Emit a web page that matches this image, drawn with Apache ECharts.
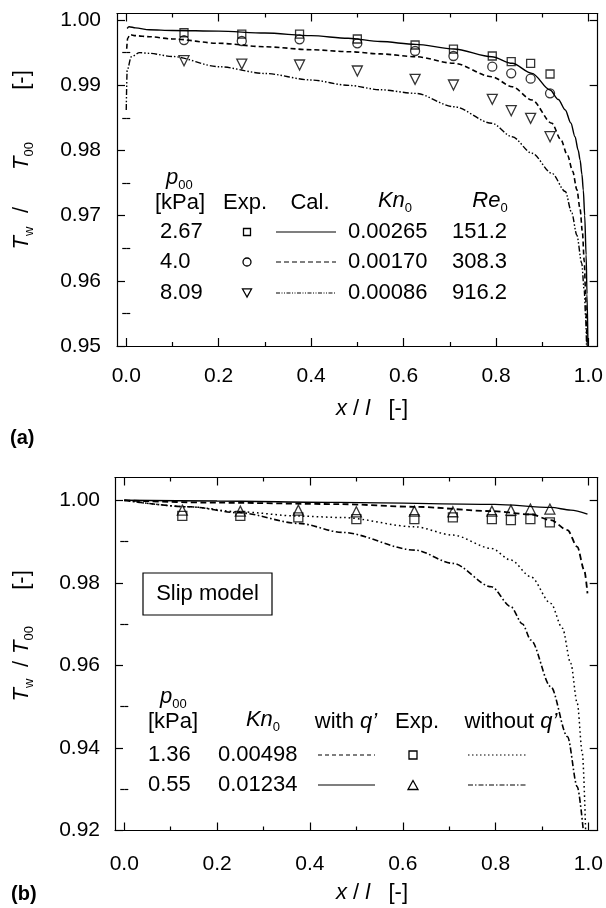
<!DOCTYPE html>
<html><head><meta charset="utf-8">
<script src="https://cdn.jsdelivr.net/npm/echarts@6/dist/echarts.min.js"></script>
<style>html,body{margin:0;padding:0;background:#fff}#c{width:606px;height:908px}</style>
</head><body><div id="c"></div>
<script>
// ---------- tick values ----------
const xMajor = [0, 0.2, 0.4, 0.6, 0.8, 1.0];
const xMinor = [0.1, 0.3, 0.5, 0.7, 0.9];
const yMajorA = [0.95, 0.96, 0.97, 0.98, 0.99, 1.00];
const yMinorA = [0.955, 0.965, 0.975, 0.985, 0.995];
const yMajorB = [0.92, 0.94, 0.96, 0.98, 1.00];
const yMinorB = [0.93, 0.95, 0.97, 0.99];

// ---------- experimental x positions ----------
const expX = [0.125, 0.25, 0.375, 0.5, 0.625, 0.708, 0.792, 0.833, 0.875, 0.917];

// ---------- panel (a) experiments ----------
const expA267 = [0.99805, 0.99785, 0.99785, 0.99709, 0.99617, 0.99555, 0.99448, 0.99361, 0.99336, 0.99172];
const expA40  = [0.99693, 0.99678, 0.99704, 0.99643, 0.99525, 0.99448, 0.99284, 0.99182, 0.99100, 0.98875];
const expA809 = [0.99376, 0.99325, 0.99310, 0.99218, 0.99090, 0.99003, 0.98784, 0.98609, 0.98492, 0.98210];

// ---------- panel (a) calculations ----------
const calA267 = [[0.002,0.9987],[0.006,0.99897],[0.02,0.9988],[0.05,0.9985],[0.1,0.99840],[0.2,0.9983],[0.3,0.9980],[0.4,0.9976],[0.48,0.9972],[0.55,0.9967],[0.626,0.99627],[0.709,0.99555],[0.791,0.99437],[0.835,0.99336],[0.878,0.99182],[0.917,0.98926],[0.935,0.9878],[0.95,0.9862],[0.962,0.9842],[0.971,0.9821],[0.978,0.9800],[0.982,0.97853],[0.986,0.9763],[0.989,0.9739],[0.992,0.9700],[0.995,0.9640],[0.997,0.9580],[0.999,0.9500]];
const calA40  = [[0.001,0.9956],[0.003,0.9972],[0.008,0.99775],[0.02,0.9976],[0.05,0.99744],[0.1,0.9971],[0.2,0.99643],[0.3,0.9959],[0.4,0.99545],[0.482,0.99514],[0.55,0.9948],[0.626,0.99437],[0.709,0.99336],[0.791,0.9913],[0.835,0.98977],[0.878,0.98773],[0.921,0.98416],[0.94,0.9817],[0.955,0.9792],[0.966,0.9768],[0.975,0.9740],[0.982,0.9710],[0.987,0.9675],[0.991,0.9630],[0.994,0.9580],[0.996,0.9530],[0.997,0.9500]];
const calA809 = [[0.0,0.9862],[0.002,0.9923],[0.011,0.99437],[0.029,0.9950],[0.05,0.99489],[0.1,0.9944],[0.2,0.99284],[0.3,0.9918],[0.4,0.9908],[0.482,0.98997],[0.55,0.9893],[0.626,0.98875],[0.709,0.9867],[0.791,0.98416],[0.835,0.9821],[0.878,0.97956],[0.921,0.97649],[0.95,0.9737],[0.964,0.9704],[0.975,0.9670],[0.9855,0.9627],[0.991,0.9585],[0.994,0.9545],[0.996,0.9500]];

// ---------- panel (b) experiments ----------
const expB136 = [0.99622, 0.99620, 0.99584, 0.99542, 0.99540, 0.99585, 0.99540, 0.99518, 0.99540, 0.99462];
const expB055 = [0.99760, 0.99736, 0.99760, 0.99719, 0.99736, 0.99720, 0.99736, 0.99760, 0.99785, 0.99785];

// ---------- panel (b) calculations ----------
const withQ136 = [[0,0.99995],[0.2,0.9994],[0.462,0.99906],[0.626,0.9984],[0.791,0.99736],[0.876,0.99656],[0.919,0.99518],[0.955,0.99276],[0.976,0.98872],[0.991,0.98308],[0.998,0.97743]];
const withQ055 = [[0,1.0],[0.2,0.9998],[0.462,0.99947],[0.798,0.9990],[0.919,0.99826],[0.962,0.9976],[0.998,0.99663]];
const withoutQ136 = [[0,0.99995],[0.14,0.9984],[0.248,0.99719],[0.376,0.99615],[0.47,0.9958],[0.626,0.99356],[0.708,0.99155],[0.791,0.98833],[0.833,0.9855],[0.876,0.98145],[0.919,0.97501],[0.944,0.9690],[0.962,0.96048],[0.976,0.9508],[0.987,0.93869],[0.994,0.9200]];
const withoutQ055 = [[0,1.0],[0.14,0.9984],[0.248,0.99695],[0.376,0.99438],[0.47,0.9922],[0.626,0.98792],[0.708,0.9847],[0.791,0.97903],[0.833,0.97419],[0.858,0.9700],[0.876,0.96613],[0.919,0.95482],[0.955,0.94271],[0.976,0.93061],[0.989,0.9200]];

// ---------- legend text ----------
const rowsA = [["2.67","0.00265","151.2"],["4.0","0.00170","308.3"],["8.09","0.00086","916.2"]];
const rowsB = [["1.36","0.00498"],["0.55","0.01234"]];

const FONT = '"Liberation Sans", Arial, Helvetica, sans-serif';
const TICKFS = 21;
const LEGFS = 22;

const chart = echarts.init(document.getElementById('c'), null, {renderer:'canvas'});

const xRange = {min:-0.02, max:1.02};
function xAxes(grid, labelMargin){
  const base = {type:'value', gridIndex:grid, min:xRange.min, max:xRange.max, splitLine:{show:false}};
  return [
    Object.assign({}, base, {position:'bottom',
      axisLine:{show:true, onZero:false, lineStyle:{color:'#000', width:1.2}},
      axisTick:{show:true, inside:true, length:8, customValues:xMajor, lineStyle:{color:'#000', width:1.2}},
      axisLabel:{show:true, customValues:xMajor, formatter:v=>v.toFixed(1), fontSize:TICKFS, fontFamily:FONT, color:'#000', margin:labelMargin}}),
    Object.assign({}, base, {position:'bottom',
      axisLine:{show:false}, axisTick:{show:true, inside:true, length:4, customValues:xMinor, lineStyle:{color:'#000', width:1.2}},
      axisLabel:{show:false}}),
    Object.assign({}, base, {position:'top',
      axisLine:{show:true, onZero:false, lineStyle:{color:'#000', width:1.2}},
      axisTick:{show:true, inside:true, length:8, customValues:xMajor, lineStyle:{color:'#000', width:1.2}},
      axisLabel:{show:false}}),
    Object.assign({}, base, {position:'top',
      axisLine:{show:false}, axisTick:{show:true, inside:true, length:4, customValues:xMinor, lineStyle:{color:'#000', width:1.2}},
      axisLabel:{show:false}})
  ];
}
function yAxes(grid, min, max, major, minor, labelMargin){
  const base = {type:'value', gridIndex:grid, min:min, max:max, splitLine:{show:false}};
  return [
    Object.assign({}, base, {position:'left',
      axisLine:{show:true, onZero:false, lineStyle:{color:'#000', width:1.2}},
      axisTick:{show:true, inside:true, length:8, customValues:major, lineStyle:{color:'#000', width:1.2}},
      axisLabel:{show:true, customValues:major, formatter:v=>v.toFixed(2), fontSize:TICKFS, fontFamily:FONT, color:'#000', margin:labelMargin}}),
    Object.assign({}, base, {position:'left',
      axisLine:{show:false}, axisTick:{show:true, inside:true, length:4, customValues:minor, lineStyle:{color:'#000', width:1.2}},
      axisLabel:{show:false}}),
    Object.assign({}, base, {position:'right',
      axisLine:{show:true, onZero:false, lineStyle:{color:'#000', width:1.2}},
      axisTick:{show:true, inside:true, length:8, customValues:major, lineStyle:{color:'#000', width:1.2}},
      axisLabel:{show:false}}),
    Object.assign({}, base, {position:'right',
      axisLine:{show:false}, axisTick:{show:true, inside:true, length:4, customValues:minor, lineStyle:{color:'#000', width:1.2}},
      axisLabel:{show:false}})
  ];
}

function lineSeries(name, data, ax, dash, width){
  return {name, type:'line', xAxisIndex:ax, yAxisIndex:ax, data, showSymbol:false, symbol:'none',
    smooth:0.3, smoothMonotone:'x', clip:true, silent:true,
    lineStyle:{color:'#000', width:width||1.4, type:dash||'solid'}};
}
function expSeries(name, vals, ax, symbol, size, rot){
  return {name, type:'scatter', xAxisIndex:ax, yAxisIndex:ax, data: vals.map((v,i)=>[expX[i], v]),
    symbol, symbolSize:size, symbolRotate:rot||0, silent:true,
    itemStyle:{color:'rgba(0,0,0,0)', borderColor:'#000', borderWidth:1.3}};
}

const dashA = [5,3];
const dashDotDot = [6,2,1.5,2,1.5,2];
const dotted = [1.6,3];
const dashDot = [6,2.5,1.6,2.5];

// ---------- graphic helpers ----------
function txt(x, y, text, opts){
  opts = opts || {};
  return {type:'text', x, y, rotation:opts.rotation||0, silent:true, z:100,
    style:Object.assign({text, fill:'#000', font:(opts.weight||'normal')+' '+(opts.size||LEGFS)+'px '+FONT,
      textAlign:opts.align||'left', textVerticalAlign:'middle'}, opts.rich?{rich:opts.rich}:{} )};
}
const richSub = (fs)=>({
  i:{fontStyle:'italic', fontSize:fs, fontFamily:FONT, lineHeight:fs+6, verticalAlign:'middle'},
  n:{fontSize:fs, fontFamily:FONT, lineHeight:fs+6, verticalAlign:'middle'},
  s:{fontSize:Math.round(fs*0.6), fontFamily:FONT, lineHeight:Math.round(fs*0.6), verticalAlign:'bottom'}
});
function hline(x1, x2, y, dash, w){
  return {type:'line', silent:true, z:100, shape:{x1, y1:y, x2, y2:y}, style:{stroke:'#000', lineWidth:w||1.3, lineDash:dash||null}};
}
function sq(cx, cy, s){ return {type:'rect', silent:true, z:100, shape:{x:cx-s/2, y:cy-s/2, width:s, height:s}, style:{fill:'none', stroke:'#000', lineWidth:1.3}}; }
function circ(cx, cy, r){ return {type:'circle', silent:true, z:100, shape:{cx, cy, r}, style:{fill:'none', stroke:'#000', lineWidth:1.3}}; }
function tri(cx, cy, s, down){
  const h = s*0.9, d = down ? -1 : 1;
  return {type:'polygon', silent:true, z:100, shape:{points:[[cx, cy - d*h/2],[cx - s/2, cy + d*h/2],[cx + s/2, cy + d*h/2]]}, style:{fill:'none', stroke:'#000', lineWidth:1.3}};
}
const ROT = Math.PI/2;

const graphics = [];
// panel labels
graphics.push(txt(10, 438, '(a)', {weight:'bold', size:20}));
graphics.push(txt(11, 894, '(b)', {weight:'bold', size:20}));
// x axis names
graphics.push(txt(372, 409, '{i|x} {n|/} {i|l}   {n|[-]}', {align:'center', rich:richSub(22)}));
graphics.push(txt(372, 893, '{i|x} {n|/} {i|l}   {n|[-]}', {align:'center', rich:richSub(22)}));
// y axis names (rotated, pieces placed along the axis)
[[238, '{i|T}{s|w}'], [210, '{n|/}'], [156, '{i|T}{s|00}'], [80, '{n|[-]}']].forEach(p=>{
  graphics.push(txt(22, p[0], p[1], {align:'center', rotation:ROT, rich:richSub(22)}));
});
[[690, '{i|T}{s|w}'], [664, '{n|/}'], [640, '{i|T}{s|00}'], [580, '{n|[-]}']].forEach(p=>{
  graphics.push(txt(22, p[0], p[1], {align:'center', rotation:ROT, rich:richSub(22)}));
});

// legend (a)
graphics.push(txt(166, 178, '{i|p}{s|00}', {rich:richSub(22)}));
graphics.push(txt(155, 203, '[kPa]'));
graphics.push(txt(245, 203, 'Exp.', {align:'center'}));
graphics.push(txt(310, 203, 'Cal.', {align:'center'}));
graphics.push(txt(395, 201, '{i|Kn}{s|0}', {align:'center', rich:richSub(22)}));
graphics.push(txt(490, 201, '{i|Re}{s|0}', {align:'center', rich:richSub(22)}));
const rowYA = [232, 262, 293];
const dashesA = [null, [5,3], [4,1.5,1,1.5,1,1.5]];
rowsA.forEach((r,i)=>{
  graphics.push(txt(160, rowYA[i], r[0]));
  graphics.push(txt(348, rowYA[i], r[1]));
  graphics.push(txt(507, rowYA[i], r[2], {align:'right'}));
  graphics.push(hline(276, 336, rowYA[i], dashesA[i], 1.2));
});
graphics.push(sq(247, rowYA[0], 7));
graphics.push(circ(247, rowYA[1], 4));
graphics.push(tri(247, rowYA[2], 9, true));

// legend (b)
graphics.push(txt(160, 697, '{i|p}{s|00}', {rich:richSub(22)}));
graphics.push(txt(148, 722, '[kPa]'));
graphics.push(txt(263, 720, '{i|Kn}{s|0}', {align:'center', rich:richSub(22)}));
graphics.push(txt(346, 722, '{n|with }{i|q’}', {align:'center', rich:richSub(22)}));
graphics.push(txt(417, 722, 'Exp.', {align:'center'}));
graphics.push(txt(511, 722, '{n|without }{i|q’}', {align:'center', rich:richSub(22)}));
const rowYB = [755, 785];
rowsB.forEach((r,i)=>{
  graphics.push(txt(148, rowYB[i], r[0]));
  graphics.push(txt(218, rowYB[i], r[1]));
});
graphics.push(hline(318, 375, rowYB[0], [4,3], 1.2));
graphics.push(hline(318, 375, rowYB[1], null, 1.2));
graphics.push(sq(413, rowYB[0], 8));
graphics.push(tri(413, rowYB[1], 10, false));
graphics.push(hline(468, 527, rowYB[0], [1.5,2.5], 1.2));
graphics.push(hline(468, 527, rowYB[1], [5,2,1.5,2], 1.2));
// slip model box
graphics.push({type:'rect', silent:true, z:100, shape:{x:143, y:573, width:129, height:42}, style:{fill:'#fff', stroke:'#000', lineWidth:1.2}});
graphics.push(txt(207.5, 594, 'Slip model', {align:'center'}));

const option = {
  animation:false,
  backgroundColor:'#fff',
  grid:[
    {left:117, width:482, top:13.5, height:332.5, containLabel:false},
    {left:115, width:485, top:477.5, height:353, containLabel:false}
  ],
  xAxis: xAxes(0, 20).concat(xAxes(1, 23)),
  yAxis: yAxes(0, 0.95, 1.001, yMajorA, yMinorA, 16).concat(yAxes(1, 0.92, 1.0055, yMajorB, yMinorB, 15)),
  series:[
    lineSeries('cal 2.67', calA267, 0, 'solid', 1.4),
    lineSeries('cal 4.0', calA40, 0, dashA, 1.6),
    lineSeries('cal 8.09', calA809, 0, dashDotDot, 1.4),
    expSeries('exp 2.67', expA267, 0, 'rect', 8),
    expSeries('exp 4.0', expA40, 0, 'circle', 9),
    expSeries('exp 8.09', expA809, 0, 'triangle', 10, 180),
    lineSeries('with q 1.36', withQ136, 4, [6,3.5], 1.8),
    lineSeries('with q 0.55', withQ055, 4, 'solid', 1.4),
    lineSeries('without q 1.36', withoutQ136, 4, dotted, 1.5),
    lineSeries('without q 0.55', withoutQ055, 4, dashDot, 1.6),
    expSeries('exp 1.36', expB136, 4, 'rect', 9),
    expSeries('exp 0.55', expB055, 4, 'triangle', 10)
  ],
  graphic: graphics
};
chart.setOption(option);
</script>
</body></html>
